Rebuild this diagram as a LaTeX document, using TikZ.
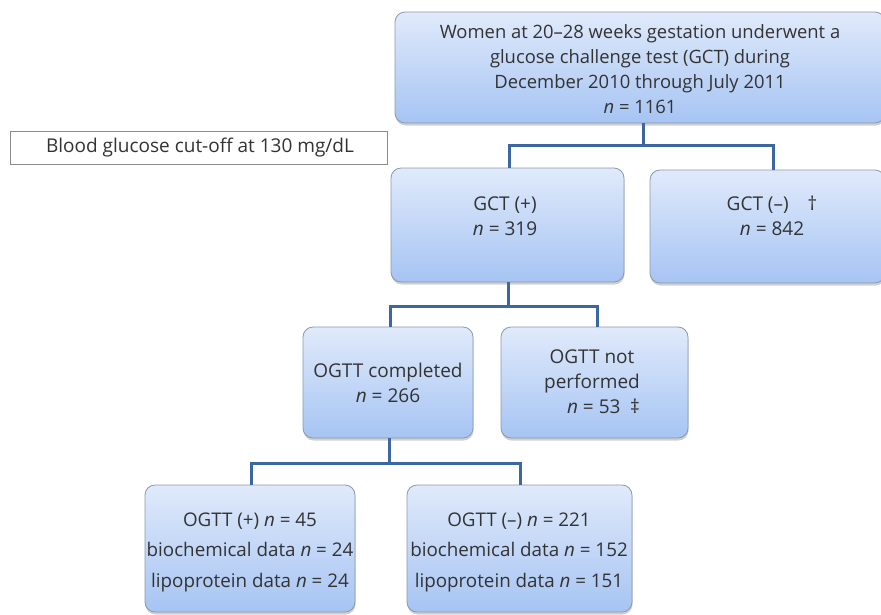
\documentclass[tikz,border=0pt]{standalone}
\usepackage{fontspec}
\setmainfont{Open Sans}
\usetikzlibrary{shadows,calc}
\definecolor{boxtop}{HTML}{E0EAFB}
\definecolor{boxbot}{HTML}{A6C4F3}
\definecolor{boxline}{HTML}{8A99AE}
\definecolor{conncol}{HTML}{3D67A2}
\definecolor{txt}{HTML}{333333}
\begin{document}
\begin{tikzpicture}[x=1pt,y=-1pt,
  box/.style={rounded corners=10pt, draw=boxline, line width=0.8pt,
    top color=boxtop, bottom color=boxbot, inner sep=0pt,
    drop shadow={shadow xshift=0.5pt, shadow yshift=-2.5pt, opacity=0.3, fill=black!60}},
  plainbox/.style={draw=black!45, line width=0.7pt, fill=white, inner sep=0pt},
  tx/.style={text=txt, align=center, font=\fontsize{19}{25}\selectfont, inner sep=0pt},
  txt/.style={tx, font=\fontsize{18.4}{25}\selectfont},
  txb/.style={tx, font=\fontsize{18.8}{30.5}\selectfont},
  conn/.style={draw=conncol, line width=3pt}]
\useasboundingbox (0,0) rectangle (881,614);
\fill[white] (0,0) rectangle (881,614);
% boxes
\node[box, minimum width=490pt, minimum height=111pt] (top) at (640,67.5) {};
\node[plainbox, minimum width=377pt, minimum height=33pt] (cut) at (198.5,147.5) {};
\node[box, minimum width=233pt, minimum height=114pt] (gcp) at (507.5,225) {};
\node[box, minimum width=235pt, minimum height=113pt] (gcm) at (767.5,226.5) {};
\node[box, minimum width=170pt, minimum height=111pt] (oc) at (388,382.5) {};
\node[box, minimum width=187pt, minimum height=111pt] (onp) at (594.5,382.5) {};
\node[box, minimum width=210pt, minimum height=127pt] (op) at (250,548.5) {};
\node[box, minimum width=225pt, minimum height=127pt] (om) at (519.5,548.5) {};
% texts
\node[txt] (ttop) at (640,69) {Women at 20–28 weeks gestation underwent a\\glucose challenge test (GCT) during\\December 2010 through July 2011\\\textit{n} = 1161};
\node[tx] (tcut) at (200,148) {Blood glucose cut-off at 130 mg/dL};
\node[tx] (tgcp) at (505,216) {GCT (+)\\\textit{n} = 319};
\node[tx] (tgcm) at (772,216) {GCT (–)\quad†\\\textit{n} = 842\hspace{1.3em}};
\node[tx] (toc) at (388,383) {OGTT completed\\\textit{n} = 266};
\node[tx] (tonp) at (592,382) {OGTT not\\performed\\\hspace{1.2em}\textit{n} = 53\enspace‡};
\node[txb] (top2) at (250,552) {OGTT (+) \textit{n} = 45\\biochemical data \textit{n} = 24\\lipoprotein data \textit{n} = 24};
\node[txb] (tom) at (519,552) {OGTT (–) \textit{n} = 221\\biochemical data \textit{n} = 152\\lipoprotein data \textit{n} = 151};
% connectors
\coordinate (j1) at (643,145);
\coordinate (j2) at (508,306);
\coordinate (j3) at (389,463);
\draw[conn] (top.south -| j1) -- (j1);
\draw[conn] (gcp.north -| 509,0) |- (j1) -| (gcm.north -| 773,0);
\draw[conn] (gcp.south -| j2) -- (j2);
\draw[conn] (oc.north -| 390,0) |- (j2) -| (onp.north -| 597,0);
\draw[conn] (oc.south -| j3) -- (j3);
\draw[conn] (op.north -| 251,0) |- (j3) -| (om.north -| 520,0);
\end{tikzpicture}
\end{document}
